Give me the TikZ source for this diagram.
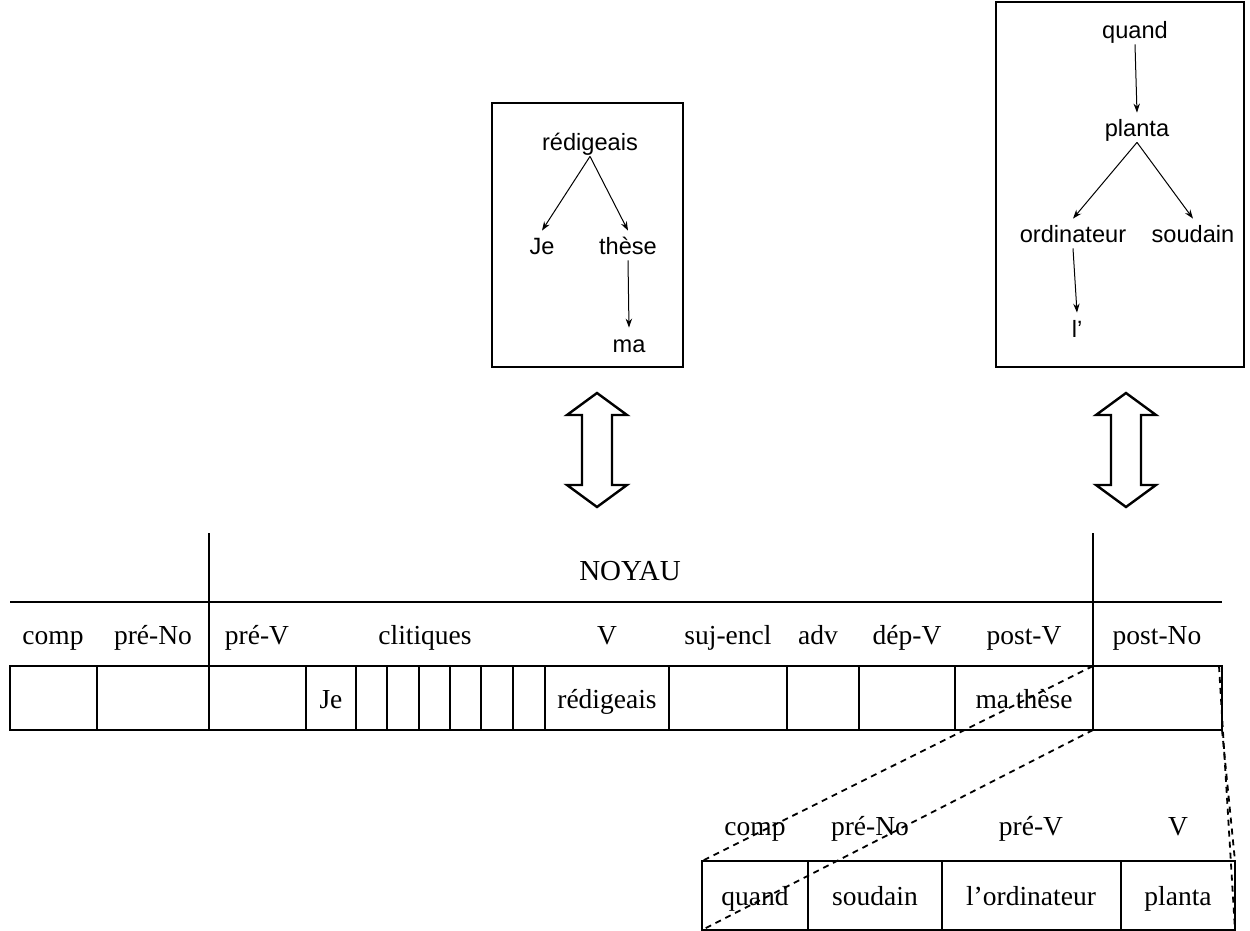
\documentclass[tikz,border=0pt]{standalone}
\usepackage{fontspec}
\setmainfont{Liberation Serif}
\newfontfamily\arialf{Liberation Sans}
\usetikzlibrary{arrows.meta}
\begin{document}
\begin{tikzpicture}[x=0.5pt,y=-0.5pt,
  tbl/.style={line width=1.3pt},
  dsh/.style={line width=0.9pt, dash pattern=on 3pt off 2.5pt},
  tw/.style={font=\arialf\fontsize{11.8pt}{14pt}\selectfont, anchor=base, inner sep=0pt, text height=12pt, text depth=2.5pt},
  lab/.style={font=\fontsize{13.75pt}{16pt}\selectfont, anchor=base, inner sep=0pt},
  arr/.style={-{Stealth[length=4.5pt,width=3.2pt]}, line width=0.5pt},
  dbl/.style={line width=1.2pt, line join=miter},
  frame/.style={draw, line width=1.3pt, inner sep=0pt}]

\useasboundingbox (0,0) rectangle (1250,931);

% ---------- tree boxes ----------
\node[frame, minimum width=95.5pt, minimum height=132pt] (boxM) at (587.5,235) {};
\node[frame, minimum width=124pt, minimum height=182.5pt] (boxR) at (1120,184.5) {};

% middle tree
\node[tw] (redig) at (590,151) {rédigeais};
\node[tw] (je)    at (542,255) {Je};
\node[tw] (these) at (628,255) {thèse};
\node[tw] (ma)    at (629,352) {ma};
\draw[arr] (redig.south) -- (je.north);
\draw[arr] (redig.south) -- (these.north);
\draw[arr] (these.south) -- (ma.north);

% right tree
\node[tw] (quand)  at (1135,39)  {quand};
\node[tw] (planta) at (1137,137) {planta};
\node[tw] (ordi)   at (1073,243) {ordinateur};
\node[tw] (soud)   at (1193,243) {soudain};
\node[tw] (lap)    at (1077,337) {l’};
\draw[arr] (quand.south) -- (planta.north);
\draw[arr] (planta.south) -- (ordi.north);
\draw[arr] (planta.south) -- (soud.north);
\draw[arr] (ordi.south) -- (lap.north);

% ---------- double arrows ----------
\foreach \cx in {597,1126}{
  \draw[dbl] (\cx,393) -- (\cx+30,415) -- (\cx+15,415) -- (\cx+15,485) -- (\cx+30,485)
    -- (\cx,507) -- (\cx-30,485) -- (\cx-15,485) -- (\cx-15,415) -- (\cx-30,415) -- cycle;
}

% ---------- main table ----------
\coordinate (nTopL) at (209,533);
\coordinate (nTopR) at (1093,533);
\coordinate (hL) at (10,602);
\coordinate (hR) at (1222,602);
\coordinate (tTL) at (10,666);
\coordinate (tBR) at (1222,730);
\coordinate (pnTop) at (1093,666);
\coordinate (pnBot) at (1093,730);
\coordinate (tTR) at (1219,666);
\coordinate (tBRc) at (1222,730);

\draw[tbl] (nTopL) -- (209,666);
\draw[tbl] (nTopR) -- (pnTop);
\draw[tbl] (hL) -- (hR);
\draw[tbl] (tTL) rectangle (tBR);
\foreach \xx in {97,209,306,356,387,419,450,481,513,545,669,787,859,955,1093}{
  \draw[tbl] (\xx,666) -- (\xx,730);
}

\node[lab, font=\fontsize{14.5pt}{17pt}\selectfont] (noyau) at (630,580) {NOYAU};

\node[lab] (h1) at (53,644) {comp};
\node[lab] (h2) at (153,644) {pré-No};
\node[lab] (h3) at (257,644) {pré-V};
\node[lab] (h4) at (425,644) {clitiques};
\node[lab] (h5) at (607,644) {V};
\node[lab] (h6) at (728,644) {suj-encl};
\node[lab] (h7) at (818,644) {adv};
\node[lab] (h8) at (907,644) {dép-V};
\node[lab] (h9) at (1024,644) {post-V};
\node[lab] (h10) at (1157,644) {post-No};

\node[lab] (c1) at (331,708) {Je};
\node[lab] (c2) at (607,708) {rédigeais};
\node[lab] (c3) at (1024,708) {ma thèse};

% ---------- lower table ----------
\coordinate (lTL) at (702,861);
\coordinate (lBL) at (702,930);
\coordinate (lTR) at (1235,861);
\coordinate (lBR) at (1235,930);
\draw[tbl] (lTL) rectangle (lBR);
\foreach \xx in {808,942,1121}{
  \draw[tbl] (\xx,861) -- (\xx,930);
}
\node[lab] (l1) at (755,835) {comp};
\node[lab] (l2) at (870,835) {pré-No};
\node[lab] (l3) at (1031,835) {pré-V};
\node[lab] (l4) at (1178,835) {V};
\node[lab] (m1) at (755,905) {quand};
\node[lab] (m2) at (875,905) {soudain};
\node[lab] (m3) at (1031,905) {l’ordinateur};
\node[lab] (m4) at (1178,905) {planta};

% ---------- dashed projection lines ----------
\draw[dsh] (pnTop) -- (lTL);
\draw[dsh] (pnBot) -- (lBL);
\draw[dsh] (tTR) -- (lBR);
\draw[dsh] (tBRc) -- (lTR);

\end{tikzpicture}
\end{document}
